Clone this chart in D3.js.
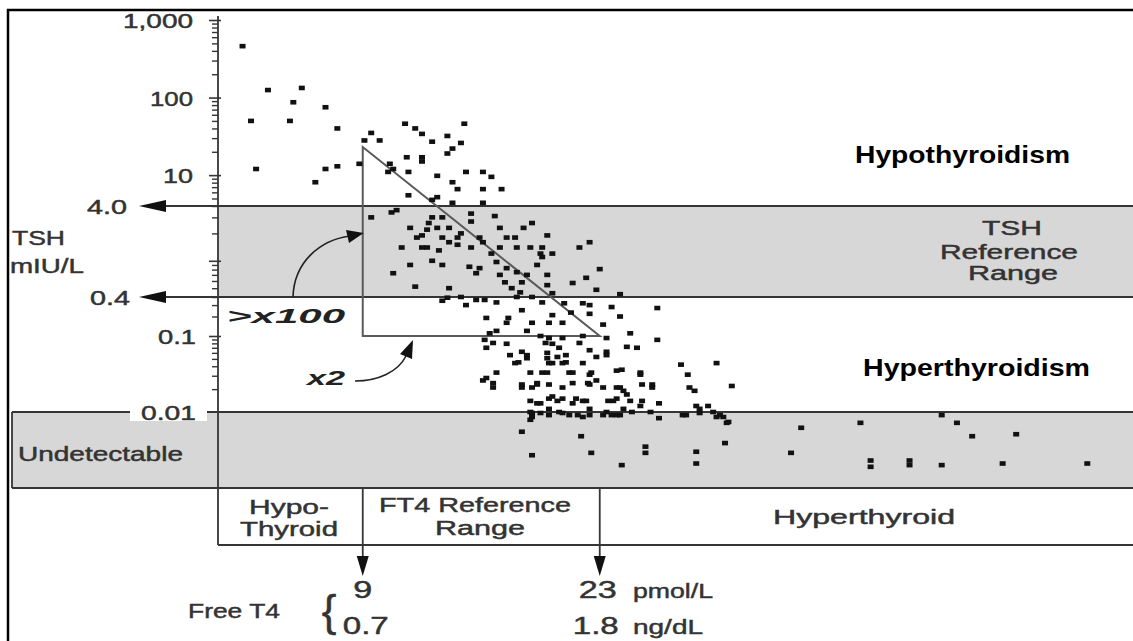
<!DOCTYPE html>
<html><head><meta charset="utf-8">
<script src="https://cdn.jsdelivr.net/npm/d3@7"></script>
<style>body{margin:0;background:#fff}svg{display:block}text{font-family:"Liberation Sans",Arial,sans-serif}</style>
</head><body><svg id="c" width="1133" height="641"></svg>
<script>
// ---- data ----
const ft4 = [1.9,3.4,5.4,4.9,2.4,4.7,6.8,7.5,2.7,6.2,6.8,7.5,8.8,
9.5,9.1,10.0,11.5,12.1,12.5,13.1,15.0,14.0,14.8,14.3,14.0,11.6,12.5,12.5,10.6,10.8,10.5,11.7,13.4,15.1,16.1,16.6,14.3,14.6,16.1,17.2,11.7,13.4,13.1,14.3,16.1,
11.0,10.7,9.5,13.7,15.4,15.4,16.8,13.1,12.9,12.8,11.8,13.4,14.1,14.8,14.6,12.5,12.2,17.1,18.5,19.0,13.7,14.1,14.6,15.9,16.1,17.5,18.0,19.9,11.3,12.5,12.8,13.5,15.4,16.6,17.1,18.1,18.9,19.6,19.5,21.8,22.4,
13.1,13.7,10.8,11.8,15.3,15.9,15.7,16.9,17.5,17.1,17.4,18.1,18.7,18.4,19.3,19.6,19.9,19.9,20.2,17.8,18.1,18.3,12.1,14.1,
14.0,13.7,14.8,15.1,15.7,16.2,16.9,19.0,19.6,20.2,21.4,22.2,23.0,22.8,24.2,20.9,21.3,22.0,22.4,22.4,23.7,24.2,26.4,16.3,17.6,17.5,18.4,19.0,20.2,20.8,20.0,23.2,24.8,16.5,16.9,18.7,
16.2,16.7,17.5,16.3,18.4,18.7,19.5,20.0,19.8,20.2,20.8,20.6,19.9,21.0,21.8,22.4,23.4,23.4,22.0,24.6,25.2,26.4,
23.4,27.8,29.9,28.2,30.8,24.0,25.4,25.5,24.2,24.6,26.1,28.6,28.7,29.4,30.1,30.6,26.5,
17.7,18.0,18.9,19.9,16.7,16.3,18.4,19.3,20.0,20.5,20.0,20.8,22.0,21.4,22.4,22.4,23.2,18.9,19.3,20.0,20.8,22.0,22.4,23.8,24.4,25.4,26.0,19.0,20.0,20.8,22.0,23.2,24.0,27.9,28.9,
18.2,18.7,19.9,20.2,21.0,22.8,16.1,16.9,16.7,19.6,21.2,22.5,24.3,25.4,18.4,19.0,19.3,20.8,21.4,22.3,22.8,24.0,24.4,26.1,28.3,
19.5,20.2,20.5,21.6,21.4,22.2,23.5,24.0,24.8,25.5,26.5,
18.9,19.0,19.5,20.0,20.6,21.2,21.7,22.4,23.4,23.7,24.2,24.9,28.1,28.9,29.7,29.9,30.3,18.9,30.5,
18.4,21.9,30.4,19.0,22.5,25.7,25.7,28.7,28.7,24.3,
34.9,38.4,43.2,44.1,45.0,47.6,34.3,39.0,39.0,41.3,41.3,43.2,46.8,51.8];
const tsh = [460,125,133,87,50,50,75,40,12,8.1,12,13,14,
35,28,28,46,40,34,27,46,32,26,22,19,17,17,15,14,12,11,11,9.8,11,11,9.5,8.1,6.6,6.6,6.6,5.5,5.2,4.8,4.4,4.4,
3.6,3.4,3.0,3.0,3.3,2.7,3.1,3.0,2.6,2.2,2.3,2.3,2.3,2.0,1.8,1.9,1.8,2.3,2.3,2.6,1.8,1.6,1.5,1.8,1.6,1.8,1.8,1.9,1.4,1.4,1.4,1.3,1.4,1.2,1.4,1.4,1.4,1.4,1.2,1.4,1.6,
1.0,0.90,0.73,0.90,0.86,0.83,0.73,0.97,0.83,0.70,0.58,0.75,0.70,0.58,0.90,1.1,0.70,0.54,1.2,0.50,0.40,0.45,0.52,0.50,
0.39,0.35,0.40,0.30,0.36,0.36,0.33,0.40,0.33,0.44,0.57,0.65,0.81,0.48,0.43,0.32,0.23,0.32,0.30,0.22,0.28,0.20,0.27,0.19,0.19,0.16,0.25,0.16,0.21,0.16,0.16,0.15,0.11,0.11,0.12,0.12,
0.089,0.081,0.079,0.070,0.062,0.056,0.10,0.094,0.081,0.079,0.094,0.070,0.060,0.056,0.081,0.065,0.062,0.094,0.10,0.072,0.070,0.089,
0.056,0.042,0.044,0.031,0.022,0.035,0.031,0.023,0.021,0.017,0.023,0.019,0.012,0.012,0.0091,0.0074,0.0083,
0.056,0.044,0.033,0.033,0.024,0.028,0.023,0.023,0.023,0.053,0.044,0.044,0.044,0.033,0.031,0.023,0.021,0.014,0.013,0.015,0.015,0.014,0.011,0.014,0.011,0.012,0.010,0.0097,0.011,0.0097,0.0086,0.0091,0.0091,0.0091,0.011,
0.045,0.051,0.051,0.044,0.045,0.053,0.026,0.033,0.021,0.033,0.033,0.033,0.036,0.033,0.021,0.021,0.024,0.021,0.024,0.024,0.026,0.021,0.019,0.021,0.021,
0.013,0.016,0.014,0.015,0.013,0.014,0.014,0.015,0.014,0.014,0.013,
0.010,0.0086,0.0097,0.0091,0.010,0.0091,0.0091,0.0091,0.010,0.0091,0.0091,0.010,0.0091,0.0097,0.010,0.0086,0.0086,0.0079,0.0072,
0.0055,0.0048,0.0039,0.0027,0.0029,0.0035,0.0029,0.0030,0.0021,0.0020,
0.0062,0.0072,0.0091,0.0072,0.0048,0.0051,0.0029,0.0023,0.0019,0.0023,0.0020,0.0020,0.0021,0.0021];

const tshTickValues = [1000, 100, 10, 0.1];
const tshTickLabels = ["1,000", "100", "10", "0.1"];
const tshRefRange = [0.4, 4.0];
const tshRefLabels = ["0.4", "4.0"];
const undetectableLimit = 0.01;
const undetectableFloor = 0.001;
const ft4RefRange = [9, 23];
const ft4Pmol = ["9", "23"];
const ft4Ngdl = ["0.7", "1.8"];
const triFt4 = [9, 9, 23];
const triTsh = [23, 0.1, 0.1];

// ---- scales ----
const ft4Extent = [0.45, 54.5];
const x = d3.scaleLinear().domain(ft4Extent).range([218, 1133]);
const y = d3.scaleLog()
  .domain([undetectableFloor, undetectableLimit, 0.1, tshRefRange[0], tshRefRange[1], 1000])
  .range([488, 412, 336, 297, 206, 20]);

const svg = d3.select("#c");
const INK = "#353535", GRAY = "#d7d7d7", SW = 1.8;
const L = x(ft4Extent[0]), R = 1140;
const yBandBot = y(undetectableFloor), yBoxBot = 545, arrowTip = 576;

function txt(s, px, py, o = {}) {
  const t = svg.append("text").attr("x", px).attr("y", py).text(s)
    .attr("font-size", o.size || 20).attr("fill", o.fill || "#333")
    .attr("text-anchor", o.anchor || "start");
  if (o.w) t.attr("textLength", o.w).attr("lengthAdjust", "spacingAndGlyphs");
  if (o.weight) t.attr("font-weight", o.weight);
  else t.attr("stroke", o.fill || "#333").attr("stroke-width", 0.45);
  if (o.style) t.attr("font-style", o.style);
  return t;
}
function line(x1, y1, x2, y2, c = INK, w = SW) {
  svg.append("line").attr("x1", x1).attr("y1", y1).attr("x2", x2).attr("y2", y2)
    .attr("stroke", c).attr("stroke-width", w);
}
function head(pts) {
  svg.append("polygon").attr("points", pts.map(p => p.join(",")).join(" ")).attr("fill", "#111");
}

// outer frame
svg.append("path").attr("d", "M8,645 V10 H1140").attr("fill", "none").attr("stroke", "#000").attr("stroke-width", 2.5);

// bands
svg.append("rect").attr("x", L).attr("y", y(tshRefRange[1])).attr("width", R - L)
  .attr("height", y(tshRefRange[0]) - y(tshRefRange[1])).attr("fill", GRAY);
svg.append("rect").attr("x", 12).attr("y", y(undetectableLimit)).attr("width", R - 12)
  .attr("height", yBandBot - y(undetectableLimit)).attr("fill", GRAY);

// reference lines with left arrows
tshRefRange.forEach((v, i) => {
  const yy = y(v);
  line(150, yy, R, yy);
  head([[139, yy], [166, yy - 6], [166, yy + 6]]);
  txt(tshRefLabels[i], i === 0 ? 130 : 127, yy + 8, {anchor: "end", size: 20, w: 40});
});
// undetectable band borders
line(12, y(undetectableLimit), R, y(undetectableLimit));
line(12, yBandBot, R, yBandBot);
line(12, y(undetectableLimit), 12, yBandBot);
svg.append("rect").attr("x", 130).attr("y", y(undetectableLimit) - 9).attr("width", 77).attr("height", 18).attr("fill", "#fff");
txt("0.01", 196, y(undetectableLimit) + 8, {anchor: "end", size: 20, w: 55});

// FT4 zone box
line(L, yBoxBot, R, yBoxBot);
ft4RefRange.forEach(v => {
  const xx = x(v);
  line(xx, yBandBot, xx, arrowTip - 10);
  head([[xx, arrowTip], [xx - 6, arrowTip - 20], [xx + 6, arrowTip - 20]]);
});

// y axis
line(L, 16, L, yBoxBot);
const minor = [];
[0.01, 0.1, 1, 10, 100].forEach(d => { for (let k = 2; k <= 9; k++) minor.push(d * k); });
svg.append("g").attr("transform", `translate(${L},0)`)
  .call(d3.axisLeft(y).tickValues(minor).tickSize(6).tickFormat(""))
  .call(g => { g.select(".domain").remove(); g.selectAll("line").attr("stroke", INK).attr("stroke-width", 1.4); });
svg.append("g").attr("transform", `translate(${L},0)`)
  .call(d3.axisLeft(y).tickValues(tshTickValues.concat([1])).tickSize(9).tickFormat(""))
  .call(g => { g.select(".domain").remove(); g.selectAll("line").attr("stroke", INK).attr("stroke-width", 1.6).attr("x2", -9).attr("x1", 3); });
const tickW = {"1,000": 70, "100": 43, "10": 30, "0.1": 38};
tshTickValues.forEach((v, i) => {
  txt(tshTickLabels[i], v === 0.1 ? 196 : 193, y(v) + 8, {anchor: "end", size: 20, w: tickW[tshTickLabels[i]]});
});

// slope triangle
svg.append("path")
  .attr("d", d3.line()(triFt4.map((f, i) => [x(f), y(triTsh[i])])) + "Z")
  .attr("fill", "none").attr("stroke", "#5a5a5a").attr("stroke-width", 2);

// points
svg.append("g").selectAll("rect").data(d3.range(Math.min(ft4.length, tsh.length))).join("rect")
  .attr("x", i => x(ft4[i]) - 3).attr("y", i => y(tsh[i]) - 2.3)
  .attr("width", 6).attr("height", 4.6).attr("fill", "#111");

// curved annotation arrows
svg.append("path").attr("d", `M293,${y(0.4)} C294,262 320,240 350,236`).attr("fill", "none").attr("stroke", "#222").attr("stroke-width", 1.6);
head([[x(9) + 1, 233], [346, 230], [349, 243]]);
svg.append("path").attr("d", "M355,381 C378,381 398,372 406,356").attr("fill", "none").attr("stroke", "#222").attr("stroke-width", 1.6);
head([[413, 340], [400, 354], [412, 359]]);

// texts
txt("TSH", 12, 245, {size: 20, w: 53});
txt("mIU/L", 10, 273, {size: 20, w: 74});
txt("Undetectable", 18, 461, {size: 20, w: 165});
txt("Hypo-", 289, 514, {anchor: "middle", size: 20, w: 80});
txt("Thyroid", 289, 536, {anchor: "middle", size: 20, w: 98});
txt("FT4 Reference", 475, 512, {anchor: "middle", size: 20, w: 192});
txt("Range", 480, 535, {anchor: "middle", size: 20, w: 90});
txt("Hyperthyroid", 864, 524, {anchor: "middle", size: 20, w: 182});
txt("TSH", 1012, 235, {anchor: "middle", size: 20, w: 60});
txt("Reference", 1009, 259, {anchor: "middle", size: 20, w: 138});
txt("Range", 1013, 280, {anchor: "middle", size: 20, w: 90});
txt("Hypothyroidism", 855, 163, {size: 23, weight: "bold", fill: "#000", w: 215});
txt("Hyperthyroidism", 863, 376, {size: 23, weight: "bold", fill: "#000", w: 227});
txt(">x100", 227, 323, {size: 21, weight: "bold", style: "italic", fill: "#222", w: 118});
txt("x2", 307, 385, {size: 21, weight: "bold", style: "italic", fill: "#222", w: 38});
txt("Free T4", 188, 618, {size: 20, w: 92});
txt("{", 329, 626, {anchor: "middle", size: 44, fill: "#333"});
ft4RefRange.forEach((v, i) => {
  txt(ft4Pmol[i], x(v) + (i ? -2 : 0), 598, {anchor: "middle", size: 24, w: i ? 38 : 19});
  txt(ft4Ngdl[i], x(v) + (i ? -4 : 3), 634, {anchor: "middle", size: 24, w: 46});
});
txt("pmol/L", 633, 598, {size: 20, w: 80});
txt("ng/dL", 633, 634, {size: 20, w: 70});
</script></body></html>
